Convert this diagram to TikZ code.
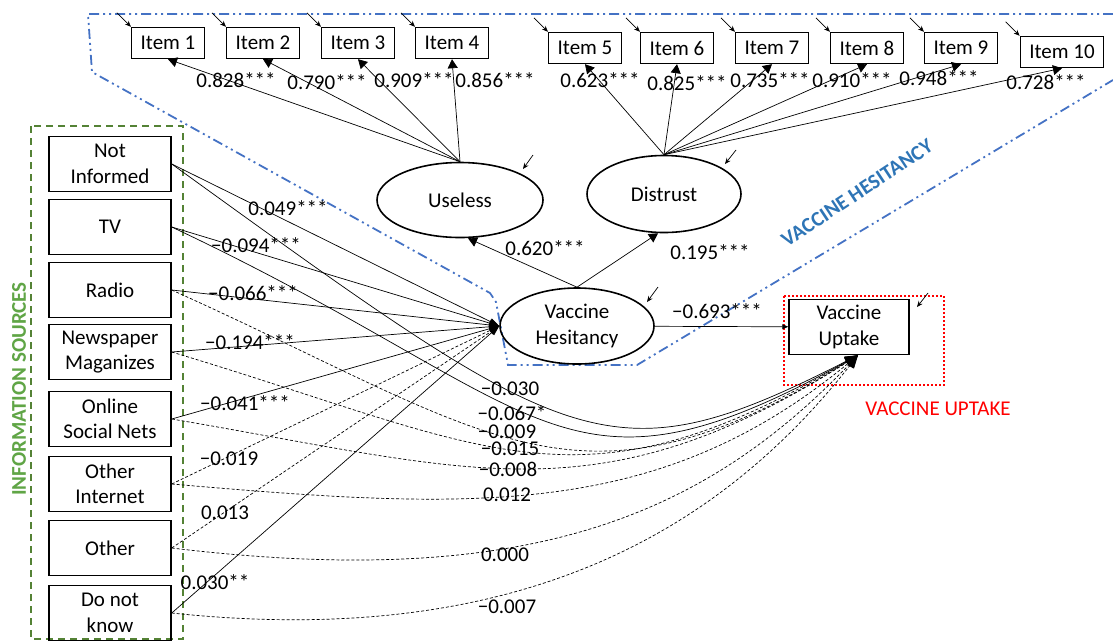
\documentclass[tikz,border=0pt]{standalone}
\usepackage{fontspec}
\setmainfont{Carlito}
\usetikzlibrary{arrows.meta,shapes.geometric}
\definecolor{vhblue}{RGB}{68,114,196}
\definecolor{vhtext}{RGB}{46,117,182}
\definecolor{isgreen}{RGB}{84,130,53}
\definecolor{istext}{RGB}{96,165,70}
\newcommand{\figfont}{\fontsize{21}{25.5}\selectfont}

\begin{document}
\begin{tikzpicture}[x=1pt,y=-1pt,font=\figfont,
  item/.style={draw,line width=1.4pt,minimum height=31pt,inner xsep=9pt,inner ysep=0pt},
  src/.style={draw,line width=1.5pt,minimum width=122pt,minimum height=55pt,align=center,inner sep=0pt},
  lat/.style={draw,ellipse,line width=1.6pt,align=center,inner sep=0pt},
  load/.style={line width=0.7pt,-{Triangle[length=9pt,width=10pt]}},
  link/.style={line width=0.7pt,-{Triangle[length=10pt,width=7pt]}},
  curv/.style={line width=0.7pt,-{Triangle[length=13pt,width=10pt]}},
  err/.style={line width=0.7pt,-{Stealth[length=6pt,width=5pt]}},
  dsh/.style={dash pattern=on 3pt off 2pt}]

\useasboundingbox (0,0) rectangle (1113,641);

% frames
\draw[vhblue,line width=1.8pt,dash pattern=on 10pt off 4pt on 2pt off 4pt on 2pt off 4pt]
  (1113,14) -- (88,14) -- (92,72) -- (490,293) -- (496,302) -- (508,365) -- (637,365) -- (1113,80);
\draw[isgreen,line width=1.5pt,dash pattern=on 7pt off 5pt] (31,126) rectangle (183,639);
\draw[red,line width=2pt,dash pattern=on 2pt off 2pt] (784,296) rectangle (944,385);

\node[rotate=90,text=istext,font=\figfont\bfseries] (infolbl) at (19,389) {INFORMATION SOURCES};
\node[rotate=33.5,text=vhtext,font=\figfont\bfseries] (vhlbl) at (857,193) {VACCINE HESITANCY};
\node[text=red] (vulbl) at (938,409) {VACCINE UPTAKE};

% items
\foreach \n/\x/\y in {1/168/43,2/263/43,3/358/43,4/452/43,5/585/48,6/677/48,7/772/48,8/867/48,9/961/48,10/1062/52}
  \node[item] (i\n) at (\x,\y) {Item \n};
\foreach \n in {1,...,10}
  \draw[err] ([shift={(-14,-14)}]i\n.north west) -- (i\n.north west);

% latent variables
\node[lat,minimum width=166pt,minimum height=75pt] (u) at (460,200) {Useless};
\node[lat,minimum width=154pt,minimum height=77pt] (d) at (664,194) {Distrust};
\node[lat,minimum width=154pt,minimum height=76pt] (vh) at (577,326) {Vaccine\\Hesitancy};
\node[src,minimum width=120pt] (vu) at (849,327) {Vaccine\\Uptake};

\draw[err] ([shift={(73,-45)}]u.center) -- ([shift={(63,-31)}]u.center);
\draw[err] ([shift={(72,-44)}]d.center) -- ([shift={(61,-30)}]d.center);
\draw[err] ([shift={(81,-39)}]vh.center) -- ([shift={(70,-24)}]vh.center);
\draw[err] ([shift={(79,-34)}]vu.center) -- ([shift={(68,-20)}]vu.center);

% sources
\node[src] (ni) at (110,164) {Not\\Informed};
\node[src] (tv) at (110,227) {TV};
\node[src] (ra) at (110,290) {Radio};
\node[src] (np) at (110,352) {Newspaper\\Maganizes};
\node[src] (os) at (110,419) {Online\\Social Nets};
\node[src] (oi) at (110,484) {Other\\Internet};
\node[src] (ot) at (110,548) {Other};
\node[src] (dk) at (110,613) {Do not\\know};

% loadings
\foreach \n in {1,...,4}
  \draw[load] (u.north) -- (i\n.south);
\foreach \n in {5,...,10}
  \draw[load] (d.north) -- (i\n.south);
\draw[load] (vh.north) -- ([xshift=8pt]u.south);
\draw[load] (vh.north) -- ([xshift=-6pt]d.south);
\draw[line width=0.7pt,-{Triangle[length=6pt,width=5pt]}] (vh) -- (vu);

% sources to hesitancy
\foreach \s in {ni,tv,ra,np,os,dk}
  \draw[link] (\s.east) -- (vh.west);
\foreach \s in {oi,ot}
  \draw[link,dsh] (\s.east) -- (vh.west);

% sources to uptake
\foreach \s/\a/\b/\c/\e/\st in {ni/400/289/-250/127/solid,tv/380/179/-298/165/solid,
    ra/320/144/-280/175/dsh,np/320/96/-280/165/dsh,os/300/51/-260/165/dsh,
    oi/300/26/-200/165/dsh,ot/349/42/-158/165/dsh,dk/349/37/-138/175/dsh}
  \draw[curv,\st] (\s.east) .. controls +(\a,\b) and +(\c,\e) .. ([xshift=9pt]vu.south);

% estimates
\foreach \t/\x/\y [count=\k] in {0.828***/236/80,0.790***/327/82,0.909***/414/80,0.856***/495/80,
    0.623***/600/80,0.825***/687/83,0.735***/770/80,0.910***/852/80,0.948***/939/78,0.728***/1046/82,
    0.620***/545/248,0.195***/710/252,−0.693***/717/311,
    0.049***/288/208,−0.094***/256/245,−0.066***/253/293,−0.194***/250/342,
    −0.041***/245/403,−0.019/229/459,0.013/225/513,0.030**/215/582,
    −0.030/510/389,−0.067*/512/413,−0.009/507/432,−0.015/510/449,
    −0.008/508/469,0.012/507/495,0.000/505/555,−0.007/507/607}
  \node[inner sep=0pt] (est\k) at (\x,\y) {\t};

\end{tikzpicture}
\end{document}
